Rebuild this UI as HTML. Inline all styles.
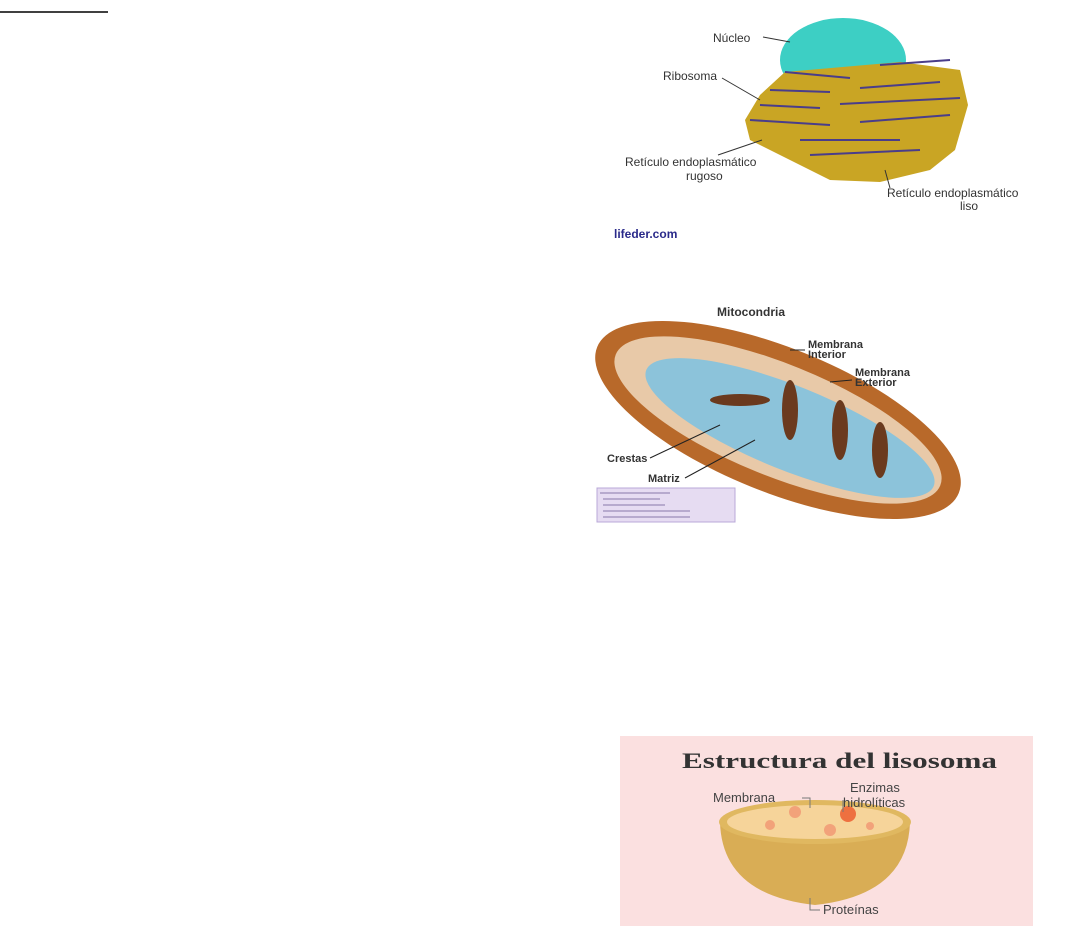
<!DOCTYPE html>
<html><head><style>
body{margin:0;width:1079px;height:926px;background:#fff;position:relative;overflow:hidden;font-family:"Liberation Sans",sans-serif}
svg{position:absolute;left:0;top:0}
</style></head><body>
<svg width="1079" height="926" viewBox="0 0 1079 926">
<line x1="0" y1="12" x2="108" y2="12" stroke="#000" stroke-width="1.5"/>
<defs><clipPath id="nc"><rect x="760" y="0" width="220" height="75"/></clipPath></defs>
<ellipse cx="843" cy="60" rx="63" ry="42" fill="#3dcfc4" clip-path="url(#nc)"/>
<path d="M785 72 L900 62 L960 70 L968 105 L955 150 L930 170 L880 182 L830 180 L800 165 L750 140 L745 120 L760 95 Z" fill="#c9a524"/>
<g stroke="#4a3d8a" stroke-width="2">
<line x1="785" y1="72" x2="850" y2="78"/><line x1="880" y1="65" x2="950" y2="60"/>
<line x1="770" y1="90" x2="830" y2="92"/><line x1="860" y1="88" x2="940" y2="82"/>
<line x1="760" y1="105" x2="820" y2="108"/><line x1="840" y1="104" x2="960" y2="98"/>
<line x1="750" y1="120" x2="830" y2="125"/><line x1="860" y1="122" x2="950" y2="115"/>
<line x1="800" y1="140" x2="900" y2="140"/><line x1="810" y1="155" x2="920" y2="150"/>
</g>
<g font-size="12" fill="#333">
<text x="713" y="42">Núcleo</text>
<text x="663" y="80">Ribosoma</text>
<text x="625" y="166">Retículo endoplasmático</text>
<text x="686" y="180">rugoso</text>
<text x="887" y="197">Retículo endoplasmático</text>
<text x="960" y="210">liso</text>
<text x="614" y="238" font-weight="bold" fill="#2a2a8a" font-size="12">lifeder.com</text>
</g>
<g stroke="#333" stroke-width="1"><line x1="763" y1="37" x2="790" y2="42"/><line x1="722" y1="78" x2="760" y2="100"/><line x1="718" y1="155" x2="762" y2="140"/><line x1="890" y1="188" x2="885" y2="170"/></g>
<text x="717" y="316" font-size="12" font-weight="bold" fill="#333">Mitocondria</text>
<ellipse cx="778" cy="420" rx="195" ry="72" transform="rotate(22 778 420)" fill="#b8692a"/>
<ellipse cx="778" cy="420" rx="175" ry="56" transform="rotate(22 778 420)" fill="#e8c9a8"/>
<ellipse cx="790" cy="428" rx="155" ry="42" transform="rotate(22 790 428)" fill="#8cc3da"/>
<g fill="#6b3a1e"><ellipse cx="790" cy="410" rx="8" ry="30"/><ellipse cx="840" cy="430" rx="8" ry="30"/><ellipse cx="880" cy="450" rx="8" ry="28"/><ellipse cx="740" cy="400" rx="30" ry="6"/></g>
<g font-size="11" font-weight="bold" fill="#333">
<text x="808" y="348">Membrana</text><text x="808" y="358">Interior</text>
<text x="855" y="376">Membrana</text><text x="855" y="386">Exterior</text>
<text x="607" y="462">Crestas</text><text x="648" y="482">Matriz</text>
</g>
<g stroke="#222"><line x1="790" y1="350" x2="805" y2="350"/><line x1="830" y1="382" x2="852" y2="380"/><line x1="650" y1="458" x2="720" y2="425"/><line x1="685" y1="478" x2="755" y2="440"/></g>
<rect x="597" y="488" width="138" height="34" fill="#e6dcf2" stroke="#b9a8d8"/>
<g stroke="#8877aa" stroke-width="1"><line x1="600" y1="493" x2="670" y2="493"/><line x1="603" y1="499" x2="660" y2="499"/><line x1="603" y1="505" x2="665" y2="505"/><line x1="603" y1="511" x2="690" y2="511"/><line x1="603" y1="517" x2="690" y2="517"/></g>
<rect x="620" y="736" width="413" height="190" fill="#fbe0e0"/>
<text x="682" y="768" font-family="Liberation Serif,serif" font-weight="bold" font-size="22" fill="#333" textLength="315" lengthAdjust="spacingAndGlyphs">Estructura del lisosoma</text>
<path d="M720 822 Q722 895 815 905 Q908 895 910 822 Z" fill="#d9ad55"/>
<ellipse cx="815" cy="822" rx="96" ry="22" fill="#e0b860"/>
<ellipse cx="815" cy="822" rx="88" ry="17" fill="#f6d49a"/>
<g fill="#f2a27a"><circle cx="795" cy="812" r="6"/><circle cx="848" cy="814" r="8" fill="#ee7040"/><circle cx="770" cy="825" r="5"/><circle cx="830" cy="830" r="6"/><circle cx="870" cy="826" r="4"/></g>
<g font-size="13" fill="#444">
<text x="713" y="802">Membrana</text>
<text x="850" y="792">Enzimas</text><text x="843" y="807">hidrolíticas</text>
<text x="823" y="914">Proteínas</text>
</g>
<g stroke="#777" fill="none"><path d="M802 798 H810 V808"/><path d="M843 800 V812"/><path d="M810 898 V910 H820"/></g>
</svg>
</body></html>
